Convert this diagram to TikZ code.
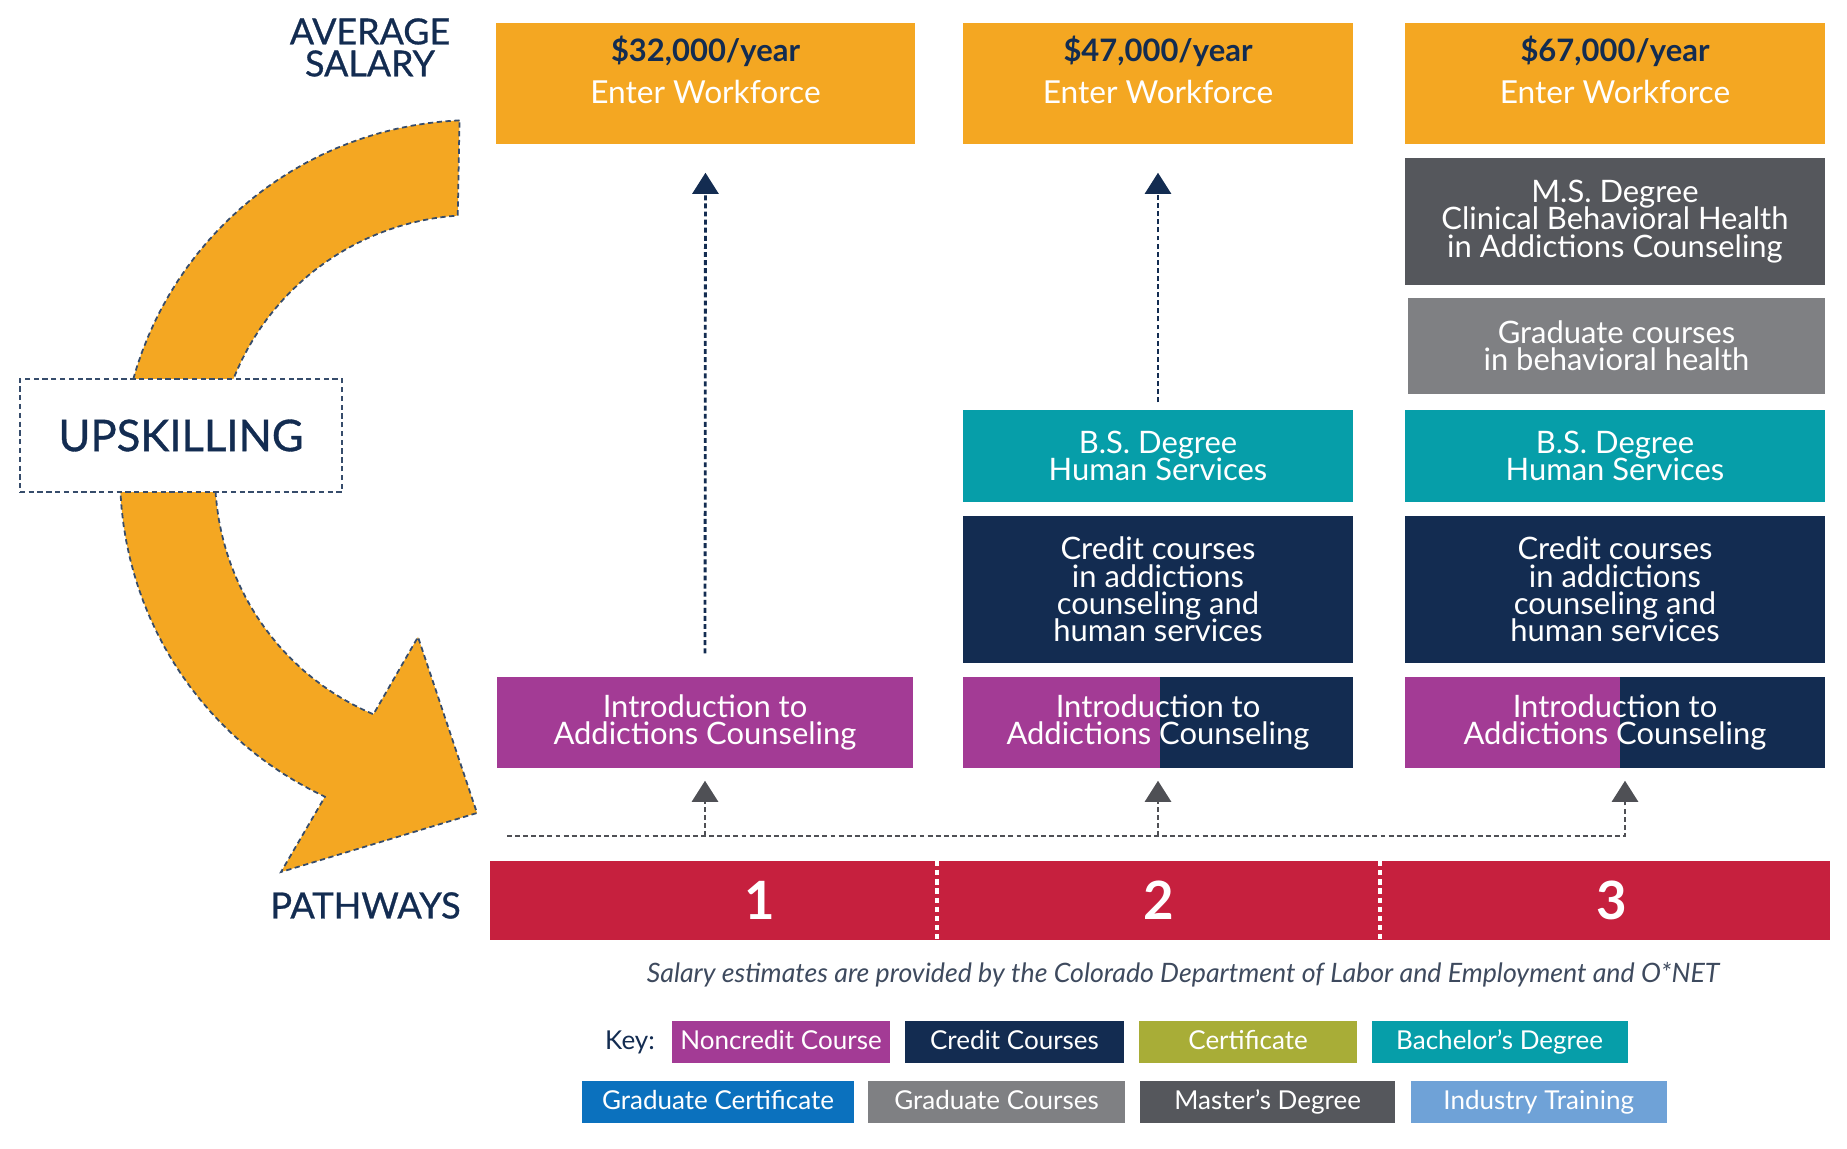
\documentclass[tikz,border=0pt]{standalone}
\usepackage{fontspec}
\setmainfont{Lato}
\newfontfamily\headfont{Lato}[FakeBold=0.8]
\usetikzlibrary{arrows.meta, positioning, calc}
\definecolor{cOrange}{HTML}{F4A722}
\definecolor{cNavy}{HTML}{132C51}
\definecolor{cPurple}{HTML}{A33B95}
\definecolor{cTeal}{HTML}{069EA9}
\definecolor{cDarkGray}{HTML}{55575C}
\definecolor{cMidGray}{HTML}{7F8083}
\definecolor{cRed}{HTML}{C6203E}
\definecolor{cOlive}{HTML}{A8AD37}
\definecolor{cBlue}{HTML}{0B71BE}
\definecolor{cLightBlue}{HTML}{6FA2D7}
\definecolor{cArrowGray}{HTML}{4F5055}
\definecolor{cNote}{HTML}{3E4A5E}
\newcommand{\boxfont}{\fontsize{8.8}{7.8}\selectfont\lineskiplimit=-10pt}

\begin{document}
\begin{tikzpicture}[x=0.01cm, y=-0.01cm,
    blk/.style={inner sep=0pt, align=center, text=white, font=\boxfont},
    salbox/.style={inner sep=0pt, fill=cOrange, minimum height=1.21cm},
    amt/.style={inner sep=0pt, text=cNavy, font=\fontsize{8.8}{9}\selectfont\bfseries},
    enter/.style={inner sep=0pt, text=white, font=\fontsize{9}{9}\selectfont},
    splitbox/.style={blk, fill=cNavy, path picture={
        \fill[cPurple] (path picture bounding box.south west) rectangle ([xshift=#1]path picture bounding box.north);}},
    head/.style={inner sep=0pt, text=cNavy, align=center},
    keybox/.style={inner sep=0pt, text=white, minimum height=0.42cm, text height=0.19cm,
        text depth=0.05cm, font=\fontsize{7.4}{8}\selectfont},
    upline/.style={cNavy, line width=0.8pt, dash pattern=on 1.4pt off 0.9pt,
        -{Triangle[width=7.4pt, length=6pt]}},
    lowline/.style={cArrowGray, line width=0.8pt, dash pattern=on 1.4pt off 0.9pt},
    outline/.style={draw=cNavy!85, line width=0.5pt, dash pattern=on 1.5pt off 1pt}]
  \useasboundingbox (0,0) rectangle (1847,1149);

  % upskilling arrow
  \path[fill=cOrange, outline]
    plot[domain=92.5:245, samples=60, variable=\t] ({475+355*cos(\t)}, {475-355*sin(\t)})
    -- (281,872) -- (477,813) -- (418,637)
    -- plot[domain=247:93.8, samples=60, variable=\t] ({475+260*cos(\t)}, {475-260*sin(\t)})
    -- cycle;
  \node[head, fill=white, outline, minimum width=3.22cm, minimum height=1.13cm,
    font=\headfont\fontsize{12.4}{12}\selectfont] (upskill) at (181,435.5) {UPSKILLING};

  % side labels
  \node[head, font=\headfont\fontsize{10.2}{9.1}\selectfont] (avgsal) at (370,47.5) {AVERAGE\\SALARY};
  \node[head, font=\headfont\fontsize{10.3}{10}\selectfont] (pathlbl) at (365.5,905.5) {PATHWAYS};

  % salary row
  \node[salbox, minimum width=4.19cm] (sal1) at (705.5,83.5) {};
  \node[salbox, minimum width=3.90cm] (sal2) at (1158,83.5) {};
  \node[salbox, minimum width=4.20cm] (sal3) at (1615,83.5) {};
  \foreach \n/\v in {sal1/32, sal2/47, sal3/67} {
    \node[amt] (\n-amt) at ([yshift=-0.29cm]\n.north) {\$\v,000/year};
    \node[enter] (\n-txt) at ([yshift=-0.70cm]\n.north) {Enter Workforce};
  }

  % pathway 3 upper boxes
  \node[blk, fill=cDarkGray, minimum width=4.20cm, minimum height=1.27cm] (ms3) at (1615,221.5)
    {M.S. Degree\\Clinical Behavioral Health\\in Addictions Counseling};
  \node[blk, fill=cMidGray, minimum width=4.17cm, minimum height=0.96cm] (grad3) at (1616.5,346)
    {Graduate courses\\in behavioral health};

  % bachelor + credit boxes
  \node[blk, fill=cTeal, minimum width=3.90cm, minimum height=0.92cm] (bs2) at (1158,456)
    {B.S. Degree\\Human Services};
  \node[blk, fill=cTeal, minimum width=4.20cm, minimum height=0.92cm] (bs3) at (1615,456)
    {B.S. Degree\\Human Services};
  \node[blk, fill=cNavy, minimum width=3.90cm, minimum height=1.47cm] (cred2) at (1158,589.5)
    {Credit courses\\in addictions\\counseling and\\human services};
  \node[blk, fill=cNavy, minimum width=4.20cm, minimum height=1.47cm] (cred3) at (1615,589.5)
    {Credit courses\\in addictions\\counseling and\\human services};

  % intro boxes
  \node[blk, fill=cPurple, minimum width=4.16cm, minimum height=0.91cm] (intro1) at (705,722.5)
    {Introduction to\\Addictions Counseling};
  \node[splitbox=0.02cm, minimum width=3.90cm, minimum height=0.91cm] (intro2) at (1158,722.5)
    {Introduction to\\Addictions Counseling};
  \node[splitbox=0.05cm, minimum width=4.20cm, minimum height=0.91cm] (intro3) at (1615,722.5)
    {Introduction to\\Addictions Counseling};

  % connectors
  \draw[upline, shorten <=0.23cm, shorten >=0.28cm] (intro1.north) -- (sal1.south);
  \draw[upline, shorten <=0.07cm, shorten >=0.28cm] (bs2.north) -- (sal2.south);
  \coordinate (rail) at (507,836);
  \draw[lowline, -{Triangle[width=7.4pt, length=6pt]}, shorten >=0.12cm]
    (rail) -| ([xshift=0.1cm]intro3.south);
  \draw[lowline, -{Triangle[width=7.4pt, length=6pt]}, shorten >=0.12cm]
    (intro1.south |- rail) -- (intro1.south);
  \draw[lowline, -{Triangle[width=7.4pt, length=6pt]}, shorten >=0.12cm]
    (intro2.south |- rail) -- (intro2.south);

  % pathways bar
  \node[fill=cRed, inner sep=0pt, minimum width=13.40cm, minimum height=0.79cm] (bar) at (1160,900.5) {};
  \draw[white, line width=1pt, dash pattern=on 1.5pt off 1.1pt] (937,861) -- (937,940);
  \draw[white, line width=1pt, dash pattern=on 1.5pt off 1.1pt] (1380,861) -- (1380,940);
  \foreach \k/\x in {1/760, 2/1159, 3/1612}
    \node[text=white, inner sep=0pt, font=\fontsize{15}{15}\selectfont\bfseries] (num\k) at (\x,900) {\k};

  % source note
  \node[text=cNote, inner sep=0pt, font=\fontsize{7.6}{8}\selectfont\itshape] (srcnote) at (1183,975)
    {Salary estimates are provided by the Colorado Department of Labor and Employment and O*NET};

  % key
  \node[inner sep=0pt, text=cNavy, text height=0.19cm, text depth=0.05cm,
    font=\fontsize{7.4}{8}\selectfont] (keylbl) at (630,1042) {Key:};
  \node[keybox, fill=cPurple, minimum width=2.18cm] (k1) at (781,1042) {Noncredit Course};
  \node[keybox, fill=cNavy, minimum width=2.18cm, right=0.14cm of k1] (k2) {Credit Courses};
  \node[keybox, fill=cOlive, minimum width=2.18cm, right=0.14cm of k2] (k3) {Certificate};
  \node[keybox, fill=cTeal, minimum width=2.56cm, right=0.13cm of k3] (k4) {Bachelor’s Degree};
  \node[keybox, fill=cBlue, minimum width=2.72cm] (k5) at (718,1102) {Graduate Certificate};
  \node[keybox, fill=cMidGray, minimum width=2.56cm, right=0.13cm of k5] (k6) {Graduate Courses};
  \node[keybox, fill=cDarkGray, minimum width=2.55cm, right=0.14cm of k6] (k7) {Master’s Degree};
  \node[keybox, fill=cLightBlue, minimum width=2.56cm, right=0.14cm of k7] (k8) {Industry Training};
\end{tikzpicture}
\end{document}
